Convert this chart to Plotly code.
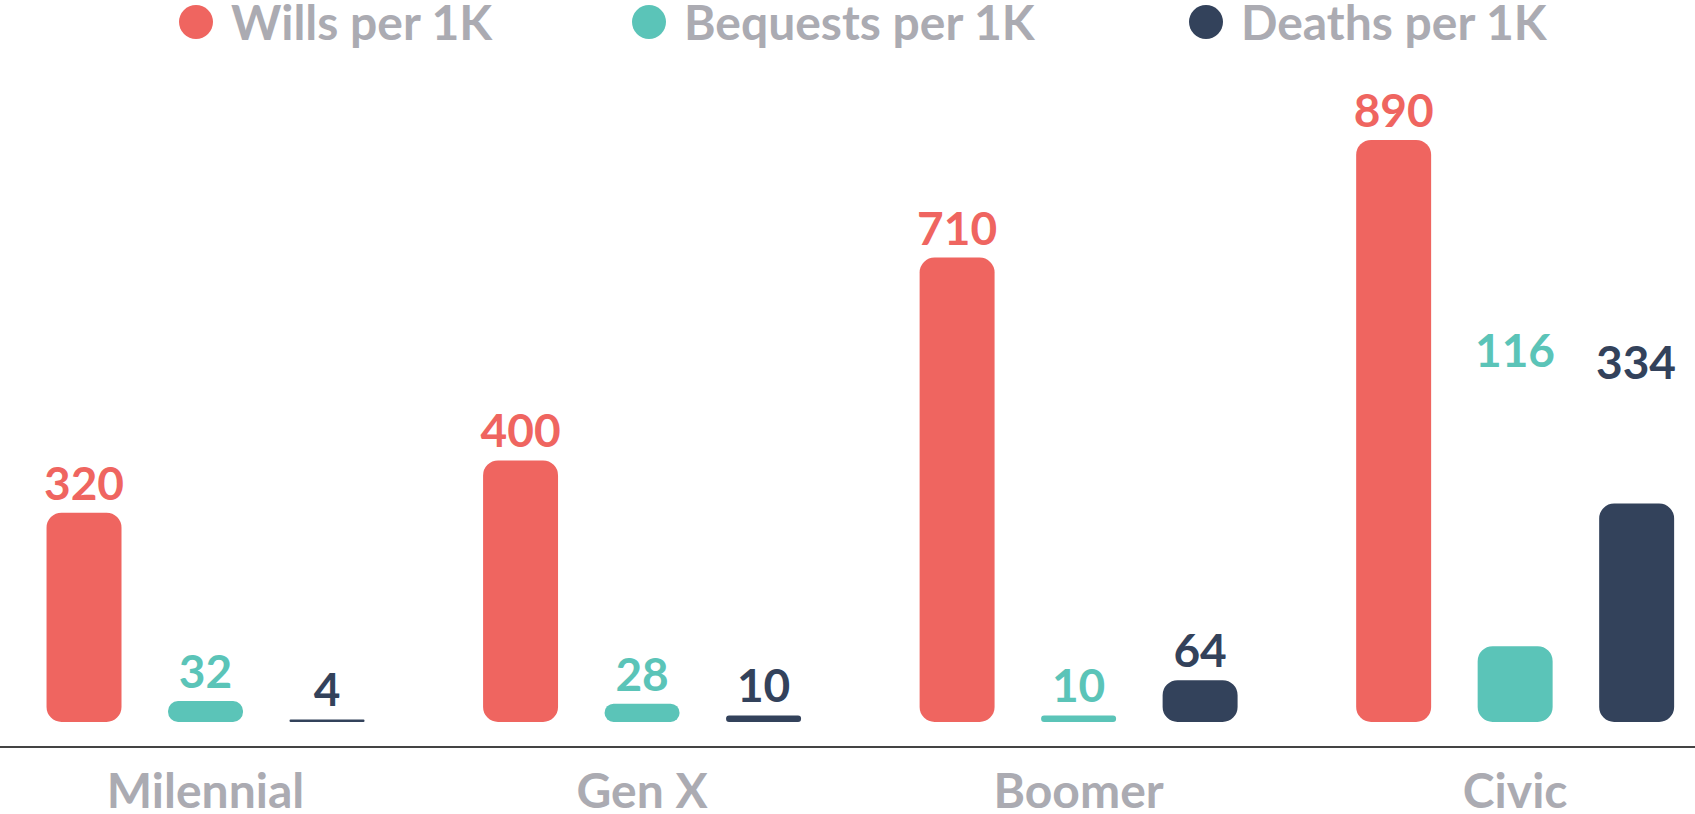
import plotly.graph_objects as go

categories = ["Milennial", "Gen X", "Boomer", "Civic"]
wills = [320, 400, 710, 890]
bequests = [32, 28, 10, 116]
deaths = [4, 10, 64, 334]
series_names = ["Wills per 1K", "Bequests per 1K", "Deaths per 1K"]
colors = ["#EF6560", "#5BC4B8", "#33425B"]
# Civic labels for bequests/deaths are floated higher in the source
civic_label_levels = [569, 551]

FONT = "Lato, 'Open Sans', sans-serif"
LABEL_SIZE = 46
LEGEND_SIZE = 48
GRAY = "#ABABB2"

fig = go.Figure()

for name, vals, col in zip(series_names, [wills, bequests, deaths], colors):
    labels = [str(v) for v in vals]
    if vals is not wills:
        labels[3] = ""
    fig.add_trace(go.Bar(
        x=categories, y=vals, base=[0] * len(vals), name=name,
        marker=dict(color=col, line=dict(width=0), cornerradius=15),
        text=labels, textposition="outside", constraintext="none",
        textfont=dict(color=col, size=LABEL_SIZE, family=FONT, weight="bold"),
        cliponaxis=False, showlegend=False,
    ))

# floated Civic labels
fig.add_annotation(x="Civic", y=civic_label_levels[0], xref="x", yref="y", text=str(bequests[3]),
                   showarrow=False, font=dict(color=colors[1], size=LABEL_SIZE, family=FONT, weight="bold"))
fig.add_annotation(x="Civic", y=civic_label_levels[1], xref="x", yref="y", text=str(deaths[3]), xshift=121,
                   showarrow=False, font=dict(color=colors[2], size=LABEL_SIZE, family=FONT, weight="bold"))

# custom legend
legend_x = [196, 649, 1206]
W, H = 1695, 814
for name, col, cx in zip(series_names, colors, legend_x):
    fig.add_shape(type="circle", xref="paper", yref="paper",
                  x0=(cx - 17) / W, x1=(cx + 17) / W,
                  y0=1 + (100 - 39) / 646, y1=1 + (100 - 5) / 646,
                  fillcolor=col, line=dict(width=0))
    fig.add_annotation(xref="paper", yref="paper", x=(cx + 33) / W, y=1 + (100 - 22) / 646,
                       xanchor="left", yanchor="middle", text=name, showarrow=False,
                       font=dict(color=GRAY, size=LEGEND_SIZE, family=FONT, weight="bold"))

fig.update_layout(
    width=W, height=H,
    barmode="group", bargap=0.165, bargroupgap=0.383,
    margin=dict(l=0, r=0, t=100, b=68, autoexpand=False),
    paper_bgcolor="white", plot_bgcolor="white",
    showlegend=False,
    font=dict(family=FONT),
    xaxis=dict(range=[-0.4708, 3.412], showline=True, linecolor="#444444", linewidth=2,
               showgrid=False, zeroline=False, ticks="", ticklabelstandoff=2, automargin=False,
               tickfont=dict(color=GRAY, size=48, family=FONT, weight="bold")),
    yaxis=dict(range=[-36.7, 951], visible=False, showgrid=False, zeroline=False, automargin=False),
)

fig.write_html("out.html", config={"displayModeBar": False},
               post_script="document.body.style.margin='0';")
